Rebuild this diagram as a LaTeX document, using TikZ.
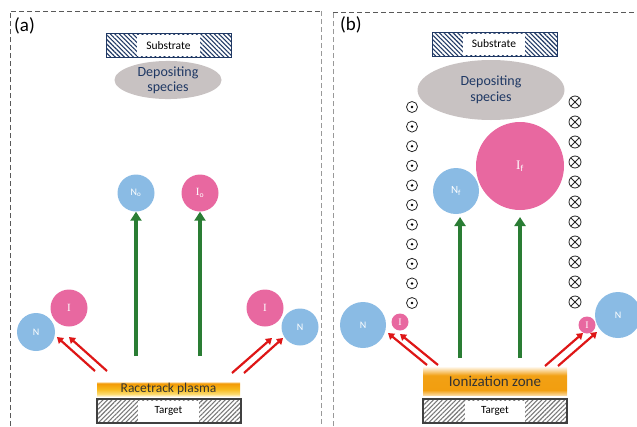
\documentclass[tikz,border=0pt]{standalone}
\usepackage{fontspec}
\setmainfont{Carlito}
\newfontfamily\serifI{Liberation Serif}
\usetikzlibrary{patterns.meta,arrows.meta,shapes.geometric}
\definecolor{nblue}{RGB}{138,187,228}
\definecolor{ipink}{RGB}{232,104,160}
\definecolor{agreen}{RGB}{42,125,52}
\definecolor{ared}{RGB}{222,22,22}
\definecolor{navy}{RGB}{31,56,100}
\definecolor{dgray}{RGB}{200,194,194}
\definecolor{hgray}{RGB}{120,120,120}
% y axis is flipped in the picture: 25bp is the top of a node, 75bp its bottom
\pgfdeclareverticalshading{raceshade}{100bp}{%
  rgb(0bp)=(1,0.95,0.80); rgb(25bp)=(1,0.95,0.80);
  rgb(32bp)=(0.99,0.86,0.45); rgb(50bp)=(0.97,0.72,0.10);
  rgb(70bp)=(0.95,0.60,0.02); rgb(75bp)=(0.99,0.88,0.70); rgb(100bp)=(0.99,0.88,0.70)}
\pgfdeclareverticalshading{ionshade}{100bp}{%
  rgb(0bp)=(0.98,0.84,0.60); rgb(25bp)=(0.98,0.84,0.60);
  rgb(34bp)=(0.95,0.62,0.06); rgb(60bp)=(0.95,0.63,0.08);
  rgb(75bp)=(1,0.97,0.92); rgb(100bp)=(1,0.97,0.92)}
\begin{document}
\begin{tikzpicture}[x=1pt,y=-1pt,
  panel/.style={dashed,dash pattern=on 5pt off 3pt,line width=0.9pt},
  neutral/.style={circle,fill=nblue,inner sep=0pt,minimum size=#1,text=white,font=\fontsize{10}{11}\selectfont},
  ion/.style={circle,fill=ipink,inner sep=0pt,minimum size=#1,text=white,font=\serifI\fontsize{11}{12}\selectfont},
  substr/.style={draw=navy,line width=1pt,pattern={Lines[angle=-45,distance=3.2pt,line width=1.1pt]},pattern color=navy,minimum height=24pt,inner sep=0pt},
  targ/.style={draw=black!75,line width=1.2pt,pattern={Lines[angle=45,distance=3.2pt,line width=1.1pt]},pattern color=hgray,minimum height=24pt,inner sep=0pt},
  wlabel/.style={fill=white,inner sep=0pt,minimum height=21pt,font=\fontsize{11.5}{13}\selectfont},
  depo/.style={ellipse,fill=dgray,inner sep=0pt,align=center,text=navy,font=\fontsize{14}{16}\selectfont},
  garrow/.style={draw=agreen,line width=4pt,-{Triangle[length=9pt,width=11pt]}},
  rarrow/.style={draw=ared,line width=2.2pt,-{Triangle[length=6pt,width=7.5pt]}},
  plasma/.style={inner sep=0pt,text=black!80},
  lbl/.style={anchor=west,font=\fontsize{19}{21}\selectfont,inner sep=0pt}
]
\useasboundingbox (0,0) rectangle (637,426);
% panel frames
\draw[panel,draw=black!65] (10,426) -- (10,11) -- (321,11);
\draw[panel,draw=black!40] (321,11) -- (321,426);
\draw[panel,draw=black!40] (333,426) -- (333,12);
\draw[panel,draw=black!65] (333,12) -- (637,12);
\node[lbl] (la) at (14,26) {(a)};
\node[lbl] (lb) at (340,25) {(b)};

% ---------- panel (a)
\node[substr,minimum width=125pt] (subA) at (168.5,45.5) {};
\node[wlabel,minimum width=63pt] (subAl) at (168.5,45.5) {Substrate};
\node[depo,minimum width=107pt,minimum height=32pt,font=\fontsize{14}{15}\selectfont] (depA) at (168,80) {Depositing\\species};
\node[neutral=37pt] (No) at (136,193) {N$_{\mathrm{o}}$};
\node[ion=37pt] (Io) at (200,193) {I$_{\mathrm{o}}$};
\node[ion=37pt] (IaL) at (69,308) {I};
\node[neutral=38pt] (NaL) at (36,332) {N};
\node[ion=37pt] (IaR) at (265,308) {I};
\node[neutral=37pt] (NaR) at (300,327) {N};
\node[plasma,minimum width=143pt,minimum height=14pt,shading=raceshade,font=\fontsize{13.5}{15}\selectfont] (race) at (168.5,389) {Racetrack plasma};
\node[targ,minimum width=144pt] (tarA) at (169,411) {};
\node[wlabel,minimum width=61pt,font=\fontsize{11}{12}\selectfont] (tarAl) at (168.5,411) {Target};
\coordinate (gA1s) at (136,356);
\coordinate (gA2s) at (200,356);
\draw[garrow] (gA1s) -- (No);
\draw[garrow] (gA2s) -- (Io);
\coordinate (rA1s) at (95,371);  \coordinate (rA1e) at (57,337);
\coordinate (rA2s) at (107,371); \coordinate (rA2e) at (69,337);
\coordinate (rA3s) at (232,373); \coordinate (rA3e) at (272,338);
\coordinate (rA4s) at (244,373); \coordinate (rA4e) at (283,338);
\draw[rarrow] (rA1s) -- (rA1e);
\draw[rarrow] (rA2s) -- (rA2e);
\draw[rarrow] (rA3s) -- (rA3e);
\draw[rarrow] (rA4s) -- (rA4e);

% ---------- panel (b)
\node[substr,minimum width=125pt] (subB) at (494.5,44) {};
\node[wlabel,minimum width=62pt] (subBl) at (494,44) {Substrate};
\node[depo,minimum width=147pt,minimum height=60pt] (depB) at (491,90) {Depositing\\species};
\node[neutral=46pt,font=\fontsize{11}{12}\selectfont] (Nf) at (456,191) {N$_{\mathrm{f}}$};
\node[ion=88pt,font=\serifI\fontsize{13}{14}\selectfont] (If) at (520,166) {I$_{\mathrm{f}}$};
\node[neutral=46pt] (NbL) at (363,325) {N};
\node[ion=17pt,font=\serifI\fontsize{10}{11}\selectfont] (IbL) at (400,322) {I};
\node[ion=17pt,font=\serifI\fontsize{10}{11}\selectfont] (IbR) at (587,325) {I};
\node[neutral=46pt] (NbR) at (618,315) {N};
\node[plasma,minimum width=144pt,minimum height=28pt,shading=ionshade,font=\fontsize{15}{17}\selectfont] (ionz) at (495,381) {Ionization zone};
\node[targ,minimum width=144pt] (tarB) at (495,411) {};
\node[wlabel,minimum width=60pt,font=\fontsize{11}{12}\selectfont] (tarBl) at (495,411) {Target};
\coordinate (gB1s) at (460,358); \coordinate (gB1e) at (460,217);
\coordinate (gB2s) at (520,358); \coordinate (gB2e) at (520,217);
\draw[garrow] (gB1s) -- (gB1e);
\draw[garrow] (gB2s) -- (gB2e);
\coordinate (rB1s) at (427,365); \coordinate (rB1e) at (388,333);
\coordinate (rB2s) at (438,365); \coordinate (rB2e) at (400,334);
\coordinate (rB3s) at (545,366); \coordinate (rB3e) at (583,333);
\coordinate (rB4s) at (558,366); \coordinate (rB4e) at (597,332);
\draw[rarrow] (rB1s) -- (rB1e);
\draw[rarrow] (rB2s) -- (rB2e);
\draw[rarrow] (rB3s) -- (rB3e);
\draw[rarrow] (rB4s) -- (rB4e);
% magnetic field symbols
\foreach \i in {0,...,10}{
  \draw[line width=0.8pt,black!85] (412,107+19.6*\i) circle[radius=5.5pt];
  \fill[black] (412,107+19.6*\i) circle[radius=1.4pt];
  \draw[line width=0.8pt,black!85] (575,102+20*\i) circle[radius=6pt];
  \draw[line width=0.8pt,black!85] (575-4.2,102+20*\i-4.2) -- (575+4.2,102+20*\i+4.2)
     (575-4.2,102+20*\i+4.2) -- (575+4.2,102+20*\i-4.2);
}
\end{tikzpicture}
\end{document}
